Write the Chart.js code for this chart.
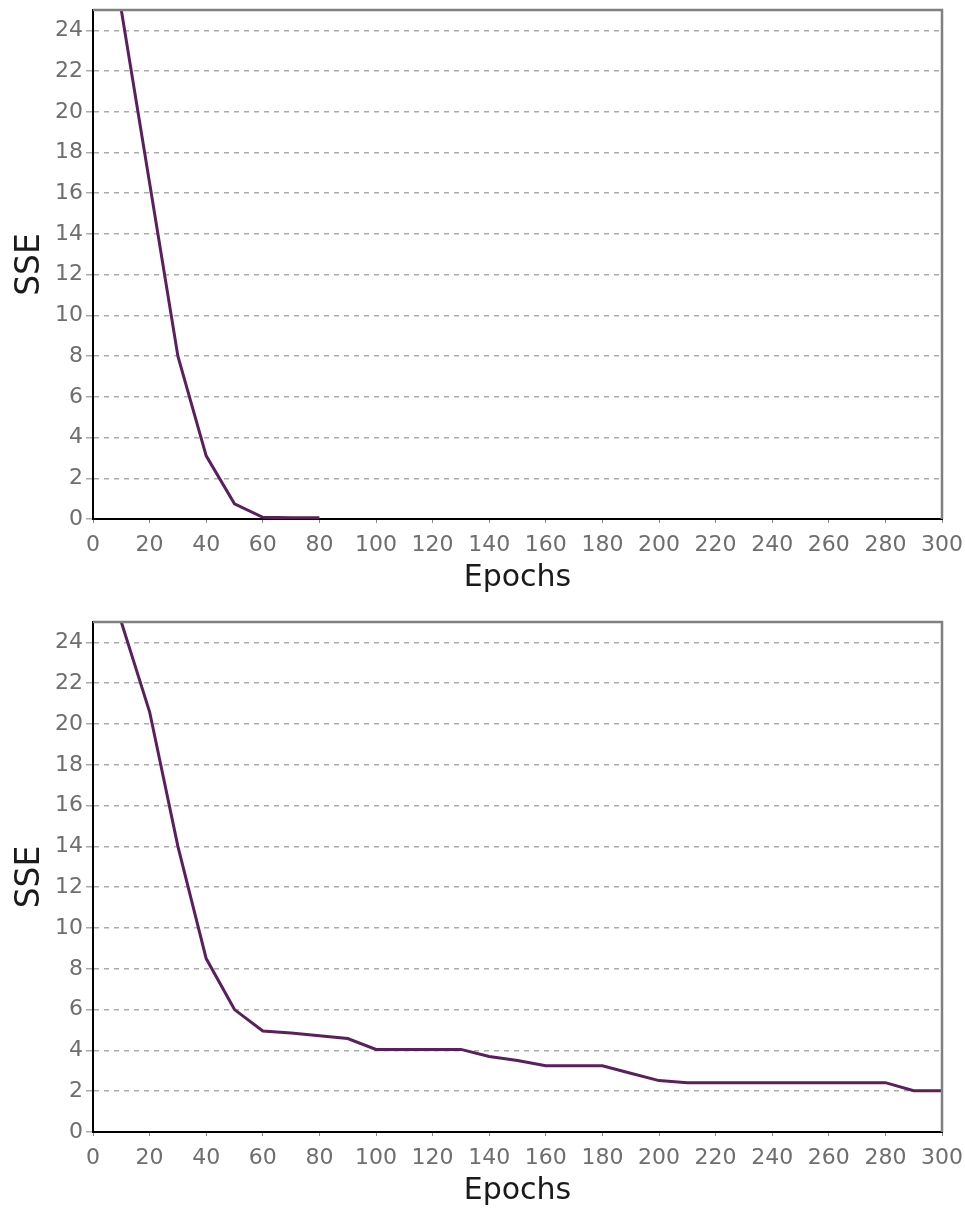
<!DOCTYPE html>
<html>
<head>
<meta charset="utf-8">
<title>SSE vs Epochs</title>
<script src="https://cdn.jsdelivr.net/npm/chart.js@4.4.1/dist/chart.umd.min.js"></script>
<style>
    html, body { margin: 0; padding: 0; background: #fff; overflow: hidden; }
    canvas { display: block; }
</style>
</head>
<body>
<canvas id="chartTop" width="965" height="605"></canvas>
<canvas id="chartBottom" width="965" height="604"></canvas>
<script>
const xTicks = [0, 20, 40, 60, 80, 100, 120, 140, 160, 180, 200, 220, 240, 260, 280, 300];
const yTicks = [0, 2, 4, 6, 8, 10, 12, 14, 16, 18, 20, 22, 24];

const epochsTop = [10, 20, 30, 40, 50, 60, 70, 80];
const sseTop = [25, 16.5, 8, 3.1, 0.75, 0.08, 0.06, 0.06];

const epochsBottom = [10, 20, 30, 40, 50, 60, 70, 80, 90, 100, 110, 120, 130, 140, 150,
    160, 170, 180, 190, 200, 210, 220, 230, 240, 250, 260, 270, 280, 290, 300];
const sseBottom = [25, 20.6, 14, 8.5, 6, 4.95, 4.85, 4.72, 4.58, 4.05, 4.05, 4.05, 4.05, 3.7, 3.5,
    3.25, 3.25, 3.25, 2.88, 2.52, 2.42, 2.42, 2.42, 2.42, 2.42, 2.42, 2.42, 2.42, 2.02, 2.02];

const tickColor = '#6e6e6e';
const lineColor = '#5c1f5e';

// top and right edge of the plot frame
const framePlugin = {
    id: 'frame',
    afterDraw(chart) {
        const { ctx, chartArea: a } = chart;
        ctx.save();
        ctx.strokeStyle = '#808080';
        ctx.lineWidth = 2.5;
        ctx.beginPath();
        ctx.moveTo(a.left, a.top);
        ctx.lineTo(a.right, a.top);
        ctx.lineTo(a.right, a.bottom);
        ctx.stroke();
        ctx.restore();
    }
};

function makeChart(id, epochs, sse, padTop, padBottom) {
    const canvas = document.getElementById(id);
    return new Chart(canvas, {
        type: 'line',
        data: {
            datasets: [{
                data: epochs.map((e, i) => ({ x: e, y: sse[i] })),
                borderColor: lineColor,
                borderWidth: 3,
                pointRadius: 0,
                tension: 0,
                fill: false
            }]
        },
        options: {
            responsive: false,
            animation: false,
            devicePixelRatio: 1,
            layout: { padding: { left: 11, right: 23, top: padTop, bottom: padBottom } },
            plugins: { legend: { display: false }, tooltip: { enabled: false } },
            scales: {
                x: {
                    type: 'linear',
                    min: 0,
                    max: 300,
                    afterBuildTicks: scale => { scale.ticks = xTicks.map(v => ({ value: v })); },
                    afterFit: scale => {
                        scale.height = 77;
                        scale.paddingLeft = 0;
                        scale.paddingRight = 0;
                    },
                    grid: { drawOnChartArea: false, color: '#888', tickLength: 4 },
                    border: { color: '#000', width: 2 },
                    ticks: {
                        color: tickColor,
                        padding: 9,
                        maxRotation: 0,
                        autoSkip: false,
                        font: { family: 'DejaVu Sans', size: 22 }
                    },
                    title: {
                        display: true,
                        text: 'Epochs',
                        color: '#1a1a1a',
                        padding: 0,
                        font: { family: 'DejaVu Sans', size: 30 }
                    }
                },
                y: {
                    min: 0,
                    max: 25,
                    afterBuildTicks: scale => { scale.ticks = yTicks.map(v => ({ value: v })); },
                    afterFit: scale => {
                        scale.width = 82;
                        scale.paddingTop = 0;
                        scale.paddingBottom = 0;
                    },
                    grid: { color: '#ababab', lineWidth: 1.5, tickLength: 7 },
                    border: { color: '#000', width: 2, dash: [5, 5] },
                    ticks: {
                        color: tickColor,
                        padding: 3,
                        font: { family: 'DejaVu Sans', size: 22 }
                    },
                    title: {
                        display: true,
                        text: 'SSE',
                        color: '#1a1a1a',
                        padding: 0,
                        font: { family: 'DejaVu Sans', size: 33 }
                    }
                }
            }
        },
        plugins: [framePlugin]
    });
}

makeChart('chartTop', epochsTop, sseTop, 10, 9);
makeChart('chartBottom', epochsBottom, sseBottom, 17, 0);
</script>
</body>
</html>
